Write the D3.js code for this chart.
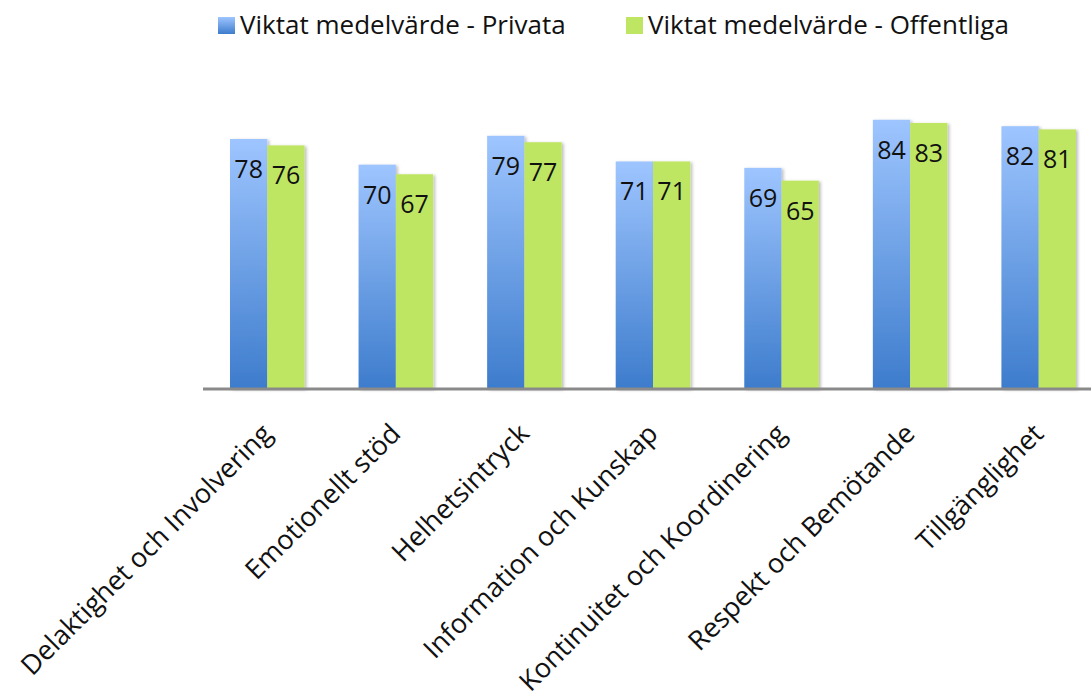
<!DOCTYPE html>
<html><head><meta charset="utf-8">
<script src="https://cdn.jsdelivr.net/npm/d3@7"></script>
<style>body{margin:0;background:#fff}svg{display:block}text{font-family:"Open Sans",sans-serif;fill:#111}</style>
</head><body>
<script>
const categories = ["Delaktighet och Involvering","Emotionellt stöd","Helhetsintryck","Information och Kunskap","Kontinuitet och Koordinering","Respekt och Bemötande","Tillgänglighet"];
const seriesNames = ["Viktat medelvärde - Privata","Viktat medelvärde - Offentliga"];
const privata = [78,70,79,71,69,84,82];
const offentliga = [76,67,77,71,65,83,81];

const W=1091,H=697;
const svg=d3.select("body").append("svg").attr("width",W).attr("height",H);
const defs=svg.append("defs");
const gb=defs.append("linearGradient").attr("id","gBlue").attr("x1",0).attr("y1",0).attr("x2",0).attr("y2",1);
gb.append("stop").attr("offset","0%").attr("stop-color","#9ec5ff");
gb.append("stop").attr("offset","100%").attr("stop-color","#3d7ccc");
const f=defs.append("filter").attr("id","sh").attr("x","-20%").attr("y","-5%").attr("width","150%").attr("height","110%");
f.append("feDropShadow").attr("dx",2).attr("dy",1).attr("stdDeviation",1.5).attr("flood-color","#000").attr("flood-opacity",0.25);

const x0=d3.scaleBand().domain(categories).range([203,1103]).paddingInner(0.42).paddingOuter(0.21);
const x1=d3.scaleBand().domain([0,1]).range([0,x0.bandwidth()]);
const y=d3.scaleLinear().domain([0,100]).range([389,68.5]);
const fills=["url(#gBlue)","#bfe663"];
const data=[privata,offentliga];

const g=svg.append("g");
categories.forEach((c,i)=>{
  [0,1].forEach(s=>{
    const v=data[s][i];
    g.append("rect").attr("x",x0(c)+x1(s)).attr("width",x1.bandwidth()).attr("y",y(v)).attr("height",y(0)-y(v)).attr("fill",fills[s]).attr("filter","url(#sh)");
  });
});
categories.forEach((c,i)=>{
  [0,1].forEach(s=>{
    const v=data[s][i];
    g.append("text").attr("x",x0(c)+x1(s)+x1.bandwidth()/2).attr("y",y(v)+39).attr("text-anchor","middle").attr("font-size",25).text(v);
  });
});
// axis
svg.append("line").attr("x1",203).attr("x2",W).attr("y1",389).attr("y2",389).attr("stroke","#8a8a8a").attr("stroke-width",3);
// category labels
categories.forEach(c=>{
  const cx=x0(c)+x0.bandwidth()/2;
  svg.append("text").attr("transform",`translate(${cx-8},${421}) rotate(-45)`).attr("text-anchor","end").attr("dy","0.75em").attr("font-size",27).text(c);
});
// legend
const leg=[{x:218,n:seriesNames[0],f:"url(#gBlue)"},{x:626,n:seriesNames[1],f:"#bfe663"}];
leg.forEach(l=>{
  svg.append("rect").attr("x",l.x).attr("y",17).attr("width",17).attr("height",17).attr("fill",l.f);
  svg.append("text").attr("x",l.x+22).attr("y",34).attr("font-size",26).text(l.n);
});
</script>
</body></html>
